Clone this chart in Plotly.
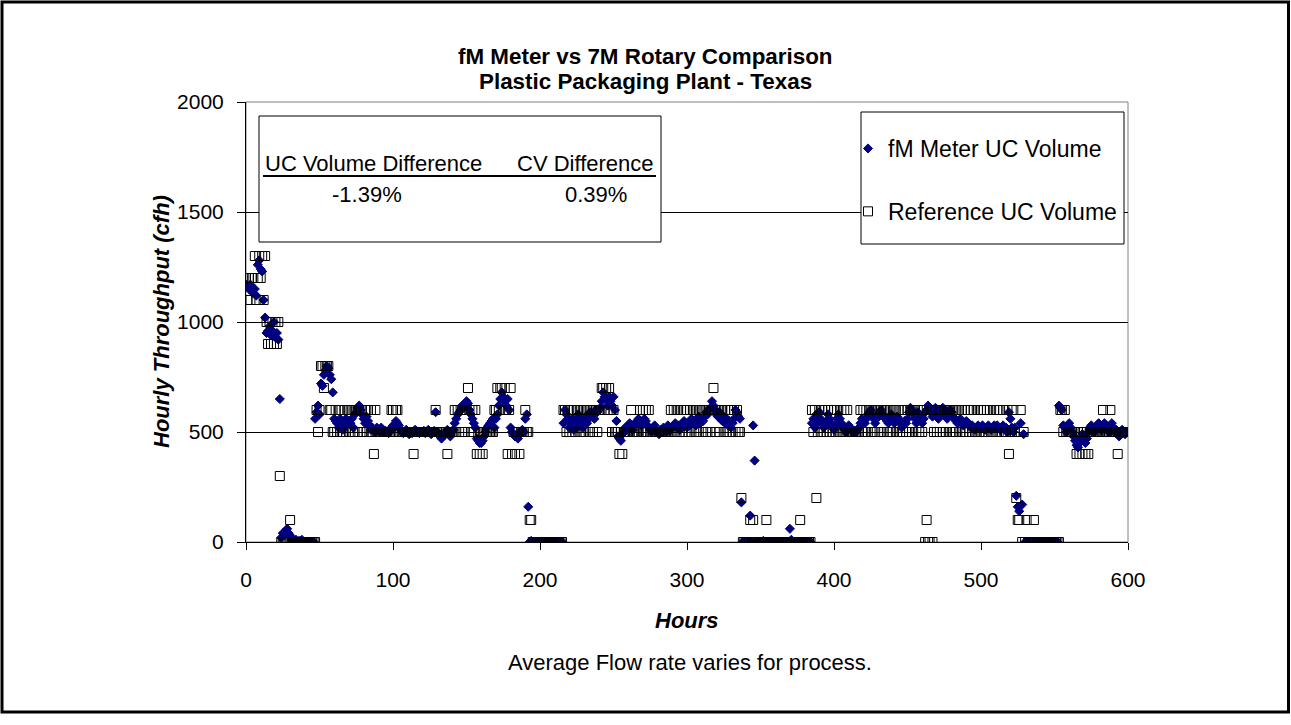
import plotly.graph_objects as go

# ---------------- data ----------------
hours = list(range(0, 600))

fm_volume = [
    1170,1160,1150,1170,1140,1130,1150,1120,1260,1280,
    1240,1230,1100,1020,950,960,980,940,960,1000,
    930,950,920,650,20,40,30,50,60,40,
    30,10,10,0,10,0,5,0,10,0,
    0,0,0,0,0,0,0,560,590,620,
    580,720,710,760,780,800,790,760,740,680,
    560,550,540,520,560,540,510,530,560,540,
    550,540,560,520,580,590,610,620,600,580,
    560,540,570,550,530,510,520,510,500,520,
    510,500,520,510,500,505,500,495,510,520,
    530,520,550,540,530,510,500,495,500,510,
    500,490,500,495,500,510,505,500,495,500,
    500,505,495,500,510,500,490,500,505,590,
    500,495,480,470,480,490,500,510,495,480,
    500,510,540,560,580,590,600,620,610,630,
    640,630,600,580,560,540,520,470,460,450,
    450,460,480,500,520,530,540,550,560,520,
    560,580,620,650,680,660,640,620,650,600,
    520,500,490,480,480,470,490,500,510,500,
    560,580,160,0,5,0,0,0,0,0,
    0,0,0,0,0,0,0,0,0,0,
    0,0,0,0,0,0,540,600,580,560,
    520,540,560,510,550,520,580,560,540,520,
    550,570,540,560,590,570,580,560,600,590,
    600,610,640,680,660,650,620,660,640,620,
    660,600,550,480,470,460,490,500,520,510,
    530,540,520,510,530,540,550,560,550,530,
    540,560,550,530,520,510,500,520,530,510,
    500,490,510,500,520,510,500,530,520,510,
    520,530,540,520,530,510,520,540,550,530,
    520,540,530,560,540,550,530,560,570,540,
    560,550,570,590,580,600,610,640,620,600,
    580,570,590,560,550,570,540,560,530,550,
    520,540,560,600,590,570,560,180,0,0,
    0,0,0,120,0,530,370,0,0,0,
    0,0,5,0,0,0,0,0,0,0,
    0,0,0,0,0,0,0,0,0,0,
    60,10,0,0,0,0,0,0,0,0,
    0,0,0,0,0,540,560,520,580,540,
    590,560,540,520,530,550,580,560,540,520,
    510,530,560,580,560,540,520,510,500,520,
    530,520,510,500,505,500,510,520,540,560,
    550,540,560,580,590,600,580,560,540,560,
    580,590,600,580,570,560,550,540,560,580,
    560,540,550,570,560,540,520,530,550,540,
    560,590,610,600,580,560,540,590,580,560,
    540,560,590,600,620,610,590,570,600,610,
    590,560,580,600,610,590,570,560,580,600,
    590,570,560,550,540,550,560,540,530,540,
    550,540,530,520,530,520,510,520,530,520,
    520,530,520,510,520,530,520,510,520,530,
    520,530,520,510,520,530,510,520,500,590,
    560,520,500,520,210,160,140,540,170,490,
    0,0,0,0,0,0,0,0,0,0,
    0,0,0,0,0,0,0,0,0,0,
    0,0,0,620,610,600,530,520,500,530,
    540,520,500,480,460,440,430,450,470,490,
    480,450,470,500,520,530,510,500,520,530,
    540,520,510,530,540,520,510,500,530,540,
    520,500,510,490,480,500,510,500,490,500,
]

ref_volume = [
    1200,1100,1200,1100,1200,1200,1300,1100,1200,1300,
    1200,1300,1100,1300,1000,900,1000,900,1000,900,
    1000,900,1000,300,0,0,0,0,0,0,
    100,0,0,0,0,0,0,0,0,0,
    0,0,0,0,0,0,0,0,600,500,
    600,800,800,700,800,800,800,600,600,500,
    500,600,500,600,500,600,500,600,500,600,
    600,500,600,500,600,600,500,600,600,500,
    500,600,500,600,500,600,500,400,600,500,
    500,500,500,500,500,500,500,500,500,600,
    600,500,600,600,500,500,500,500,500,500,
    500,500,500,500,400,500,500,500,500,500,
    500,500,500,500,500,500,500,500,500,600,
    500,500,500,500,500,500,500,400,500,500,
    500,500,600,500,600,500,600,600,500,600,
    600,700,600,500,600,500,600,400,500,400,
    500,400,500,500,500,500,500,500,500,600,
    600,700,600,700,700,600,700,600,400,600,
    700,400,500,400,500,500,400,500,500,500,
    600,500,500,100,100,0,0,0,0,0,
    0,0,0,0,0,0,0,0,0,0,
    0,0,0,0,0,0,600,600,500,600,
    500,600,500,600,500,600,600,500,600,500,
    600,500,600,600,500,600,500,600,600,500,
    600,600,700,700,600,700,600,700,600,500,
    600,500,500,500,400,500,400,500,500,500,
    500,500,600,500,500,500,500,500,600,500,
    600,500,600,500,600,500,500,500,500,500,
    500,500,500,500,500,500,500,500,500,600,
    500,600,500,600,600,500,600,500,600,500,
    600,500,600,500,600,600,500,600,500,600,
    600,500,600,500,600,600,500,600,700,600,
    500,600,500,600,600,500,600,500,600,500,
    600,500,600,500,600,500,500,200,0,0,
    0,0,0,100,0,100,0,0,0,0,
    0,0,0,0,100,0,0,0,0,0,
    0,0,0,0,0,0,0,0,0,0,
    0,0,0,0,0,0,0,100,0,0,
    0,0,0,0,0,600,500,600,200,500,
    600,500,600,500,600,500,600,500,600,500,
    600,500,600,500,500,600,500,600,500,600,
    500,500,500,500,500,500,500,500,600,500,
    600,500,600,500,600,600,500,600,500,600,
    600,500,600,500,600,600,500,600,500,600,
    500,600,600,500,600,500,600,500,600,500,
    600,500,600,500,600,600,500,600,500,600,
    500,600,0,100,0,0,600,0,500,600,
    500,600,500,600,500,600,500,600,600,500,
    600,500,600,500,600,600,500,600,500,600,
    500,600,500,600,500,600,500,500,600,500,
    600,500,600,500,600,500,600,500,500,600,
    500,600,500,600,500,600,500,500,600,400,
    500,500,600,500,200,100,100,600,0,500,
    0,100,0,0,0,0,100,0,0,0,
    0,0,0,0,0,0,0,0,0,0,
    0,0,0,0,600,600,500,600,500,500,
    500,500,500,500,500,400,500,400,500,400,
    500,400,500,400,500,500,500,500,500,500,
    500,500,500,600,500,500,500,500,600,500,
    500,500,500,400,500,500,500,500,500,500,
]

x_ticks = [0, 100, 200, 300, 400, 500, 600]
y_ticks = [0, 500, 1000, 1500, 2000]

title_lines = ["fM Meter vs 7M Rotary Comparison", "Plastic Packaging Plant - Texas"]
inset_headers = ["UC Volume Difference", "CV Difference"]
inset_values = ["-1.39%", "0.39%"]

# ---------------- layout geometry (pixels) ----------------
W, H = 1291, 725
PL, PR, PT, PB = 246, 1128, 102, 542
FONT = "Liberation Sans, Arial, sans-serif"


def px(xp):
    return (xp - PL) / (PR - PL)


def py(yp):
    return (PB - yp) / (PB - PT)


fig = go.Figure()

fig.add_trace(go.Scatter(
    x=hours, y=fm_volume, mode="markers", name="fM Meter UC Volume",
    legendgroup="a",
    marker=dict(symbol="diamond", size=7, color="#000080",
                line=dict(color="#000080", width=1)),
))
fig.add_trace(go.Scatter(
    x=hours, y=ref_volume, mode="markers", name="Reference UC Volume",
    legendgroup="b",
    marker=dict(symbol="square-open", size=9, color="#000000",
                line=dict(color="#000000", width=1)),
))

shapes = [
    # plot area border (grey)
    dict(type="rect", xref="paper", yref="paper", x0=0, x1=1, y0=0, y1=1,
         line=dict(color="#808080", width=1), layer="below"),
    # outer chart frame
    dict(type="rect", xref="paper", yref="paper", x0=px(2), x1=px(1288.5), y0=py(2), y1=py(712),
         line=dict(color="#000000", width=3), layer="above"),
    # inset box
    dict(type="rect", xref="paper", yref="paper", x0=px(259), x1=px(661), y0=py(116), y1=py(242),
         line=dict(color="#000000", width=1), fillcolor="white", layer="above"),
    # underline
    dict(type="line", xref="paper", yref="paper", x0=px(263), x1=px(656), y0=py(176), y1=py(176),
         line=dict(color="#000000", width=2), layer="above"),
    # legend box
    dict(type="rect", xref="paper", yref="paper", x0=px(861), x1=px(1124), y0=py(112), y1=py(244),
         line=dict(color="#000000", width=1), fillcolor="white", layer="above"),
]

annotations = [
    dict(text="<b>%s</b>" % title_lines[0], x=px(645), y=py(57)),
    dict(text="<b>%s</b>" % title_lines[1], x=px(645), y=py(81)),
    dict(text="<b><i>Hourly Throughput (cfh)</i></b>", x=px(161), y=py(322), textangle=-90),
    dict(text="<b><i>Hours</i></b>", x=px(687), y=py(620)),
    dict(text="Average Flow rate varies for process.", x=px(690), y=py(662)),
    dict(text=inset_headers[0], x=px(263), y=py(163), xanchor="left"),
    dict(text=inset_headers[1], x=px(656), y=py(163), xanchor="right"),
    dict(text=inset_values[0], x=px(367), y=py(194)),
    dict(text=inset_values[1], x=px(596), y=py(194)),
]
for a in annotations:
    a.setdefault("xanchor", "center")
    a.update(xref="paper", yref="paper", yanchor="middle", showarrow=False,
             font=dict(family=FONT, size=22, color="black"))
annotations[0]["font"]["size"] = 22.4
annotations[1]["font"]["size"] = 22.4

fig.update_layout(
    width=W, height=H,
    margin=dict(l=PL, r=W - PR, t=PT, b=H - PB, pad=0),
    paper_bgcolor="white", plot_bgcolor="white",
    font=dict(family=FONT, size=22, color="black"),
    showlegend=True,
    legend=dict(x=px(848), y=py(127), xanchor="left", yanchor="top",
                bgcolor="rgba(0,0,0,0)", borderwidth=0,
                traceorder="grouped", tracegroupgap=30,
                font=dict(family=FONT, size=23, color="black")),
    xaxis=dict(range=[0, 600], tickvals=x_ticks, ticktext=[str(v) for v in x_ticks],
               showgrid=False, zeroline=False, showline=True, linecolor="black", linewidth=1,
               ticks="outside", ticklen=7, tickcolor="black", tickwidth=1,
               tickfont=dict(family=FONT, size=21, color="black"), ticklabelstandoff=12),
    yaxis=dict(range=[0, 2000], tickvals=y_ticks, ticktext=[str(v) for v in y_ticks],
               showgrid=True, gridcolor="black", gridwidth=1, zeroline=False,
               showline=True, linecolor="black", linewidth=1,
               ticks="outside", ticklen=8, tickcolor="black", tickwidth=1,
               tickfont=dict(family=FONT, size=21, color="black"), ticklabelstandoff=9),
    shapes=shapes,
    annotations=annotations,
)

fig.write_html(
    "out.html",
    config={"displayModeBar": False},
    post_script="document.body.style.margin='0px';document.body.style.overflow='hidden';",
)
